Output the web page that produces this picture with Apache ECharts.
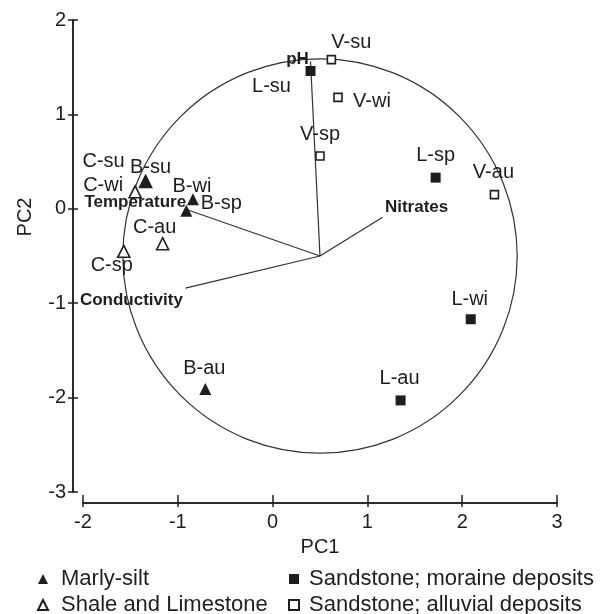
<!DOCTYPE html>
<html>
<head>
<meta charset="utf-8">
<script src="https://cdn.jsdelivr.net/npm/echarts@6/dist/echarts.min.js"></script>
<style>
  html, body { margin: 0; padding: 0; background: #fff; }
  #main { width: 602px; height: 614px; }
</style>
</head>
<body>
<div id="main"></div>
<script>
// sample scores on PC1 / PC2
var marlyNames = ['B-su', 'B-wi', 'B-sp', 'B-au'];
var marlyPC1 = [-1.34, -0.84, -0.91, -0.71];
var marlyPC2 = [0.29, 0.10, -0.02, -1.91];

var shaleNames = ['C-su', 'C-wi', 'C-au', 'C-sp'];
var shalePC1 = [-1.34, -1.45, -1.16, -1.57];
var shalePC2 = [0.29, 0.18, -0.37, -0.45];

var moraineNames = ['L-su', 'L-sp', 'L-wi', 'L-au'];
var morainePC1 = [0.40, 1.72, 2.09, 1.35];
var morainePC2 = [1.46, 0.33, -1.17, -2.03];

var alluvialNames = ['V-su', 'V-wi', 'V-sp', 'V-au'];
var alluvialPC1 = [0.62, 0.69, 0.50, 2.34];
var alluvialPC2 = [1.58, 1.18, 0.56, 0.15];

// variable loadings (arrows from the circle centre)
var vectorNames = ['pH', 'Temperature', 'Conductivity', 'Nitrates'];
var vectorPC1 = [0.40, -0.90, -0.92, 1.16];
var vectorPC2 = [1.56, -0.01, -0.84, -0.09];
var circleCentre = [0.5, -0.5];
var circleRadius = 2.08;

var xTicks = [-2, 3];
var yTicks = [-3, 2];

// label placement, pixels from the marker
var labelOffset = {
  'V-su': [20, -17], 'L-su': [-39, 16], 'V-wi': [34, 4], 'V-sp': [0, -21],
  'L-sp': [0, -22], 'V-au': [-1, -22], 'L-wi': [-1, -20], 'L-au': [-1, -22],
  'B-au': [-1, -21], 'B-su': [5, -14], 'B-wi': [-1, -13], 'B-sp': [35, -7],
  'C-wi': [-32, -6], 'C-su': [-42, -20], 'C-au': [-8, -16], 'C-sp': [-12, 14]
};
var vectorLabelOffset = [[-13, -2], [-52, -7], [-54, 12], [34, -10]];

var FONT = "'Liberation Sans', Arial, sans-serif";
var INK = '#1e1e1e';

function points(names, xs, ys) {
  return names.map(function (n, i) {
    return { name: n, value: [xs[i], ys[i]], label: { offset: labelOffset[n] } };
  });
}

var pointLabel = {
  show: true, position: 'inside', formatter: '{b}',
  color: INK, fontSize: 20, fontFamily: FONT
};

function baseX(extra) {
  return Object.assign({
    type: 'value', min: xTicks[0], max: xTicks[1], interval: 1,
    position: 'bottom', offset: 11,
    axisLine: { show: true, onZero: false, lineStyle: { color: INK, width: 1.5 } },
    splitLine: { show: false }
  }, extra);
}
function baseY(extra) {
  return Object.assign({
    type: 'value', min: yTicks[0], max: yTicks[1], interval: 1,
    position: 'left', offset: 10,
    axisLine: { show: true, onZero: false, lineStyle: { color: INK, width: 1.5 } },
    splitLine: { show: false }
  }, extra);
}

var myChart = echarts.init(document.getElementById('main'), null, { renderer: 'canvas' });

var option = {
  backgroundColor: '#fff',
  animation: false,
  grid: { left: 83, right: 45, top: 20, bottom: 122 },
  xAxis: [
    baseX({
      name: 'PC1', nameLocation: 'middle', nameGap: 34,
      nameTextStyle: { color: INK, fontSize: 20, fontFamily: FONT },
      axisTick: { show: true, inside: true, length: 8, lineStyle: { color: INK, width: 1.5 } },
      axisLabel: { color: INK, fontSize: 20, fontFamily: FONT, margin: 9 }
    }),
    baseX({
      axisTick: { show: true, inside: false, length: 4, lineStyle: { color: INK, width: 1.5 } },
      axisLabel: { show: false }
    })
  ],
  yAxis: [
    baseY({
      name: 'PC2', nameLocation: 'middle', nameGap: 38, nameRotate: 90,
      nameTextStyle: { color: INK, fontSize: 20, fontFamily: FONT, padding: [0, 0, 0, 78] },
      axisTick: { show: true, inside: true, length: 5, lineStyle: { color: INK, width: 1.5 } },
      axisLabel: { color: INK, fontSize: 20, fontFamily: FONT, margin: 7 }
    }),
    baseY({
      axisTick: { show: true, inside: false, length: 5, lineStyle: { color: INK, width: 1.5 } },
      axisLabel: { show: false }
    })
  ],
  legend: [
    {
      orient: 'vertical', left: 37, top: 568, height: 80, padding: 0,
      itemWidth: 10, itemHeight: 10, itemGap: 4,
      data: ['Marly-silt', 'Shale and Limestone'],
      textStyle: { color: INK, fontSize: 22, fontFamily: FONT, lineHeight: 22, padding: [0, 0, 0, 8] }
    },
    {
      orient: 'vertical', left: 288, top: 568, height: 80, padding: 0,
      itemWidth: 10, itemHeight: 10, itemGap: 4,
      data: ['Sandstone; moraine deposits', 'Sandstone; alluvial deposits'],
      textStyle: { color: INK, fontSize: 22, fontFamily: FONT, lineHeight: 22, padding: [0, 0, 0, 5] }
    }
  ],
  series: [
    {
      type: 'custom', name: 'circle', silent: true, z: 1,
      data: [circleCentre],
      renderItem: function (params, api) {
        var c = api.coord([api.value(0), api.value(1)]);
        var r = api.size([circleRadius, 0])[0];
        return {
          type: 'circle', shape: { cx: c[0], cy: c[1], r: r },
          style: { fill: 'none', stroke: '#333', lineWidth: 1.2 }
        };
      }
    },
    {
      type: 'custom', name: 'vectors', silent: true, z: 2,
      data: vectorPC1.map(function (x, i) { return [x, vectorPC2[i]]; }),
      renderItem: function (params, api) {
        var o = api.coord(circleCentre);
        var e = api.coord([api.value(0), api.value(1)]);
        var off = vectorLabelOffset[params.dataIndex];
        return {
          type: 'group',
          children: [
            {
              type: 'line', shape: { x1: o[0], y1: o[1], x2: e[0], y2: e[1] },
              style: { stroke: '#333', lineWidth: 1.2 }
            },
            {
              type: 'text', x: e[0] + off[0], y: e[1] + off[1],
              style: {
                text: vectorNames[params.dataIndex], font: 'bold 17px ' + FONT,
                align: 'center', verticalAlign: 'middle', fill: INK
              }
            }
          ]
        };
      }
    },
    {
      type: 'scatter', name: 'Shale and Limestone', z: 3,
      symbol: 'triangle', symbolSize: 12,
      itemStyle: { color: '#fff', borderColor: INK, borderWidth: 1.6, opacity: 1 },
      label: pointLabel,
      data: points(shaleNames, shalePC1, shalePC2)
    },
    {
      type: 'scatter', name: 'Marly-silt', z: 4,
      symbol: 'triangle', symbolSize: 12,
      itemStyle: { color: INK, opacity: 1 },
      label: pointLabel,
      data: points(marlyNames, marlyPC1, marlyPC2)
    },
    {
      type: 'scatter', name: 'Sandstone; moraine deposits', z: 4,
      symbol: 'rect', symbolSize: 10,
      itemStyle: { color: INK, opacity: 1 },
      label: pointLabel,
      data: points(moraineNames, morainePC1, morainePC2)
    },
    {
      type: 'scatter', name: 'Sandstone; alluvial deposits', z: 4,
      symbol: 'rect', symbolSize: 8,
      itemStyle: { color: '#fff', borderColor: INK, borderWidth: 1.6, opacity: 1 },
      label: pointLabel,
      data: points(alluvialNames, alluvialPC1, alluvialPC2)
    }
  ]
};

myChart.setOption(option);
</script>
</body>
</html>
